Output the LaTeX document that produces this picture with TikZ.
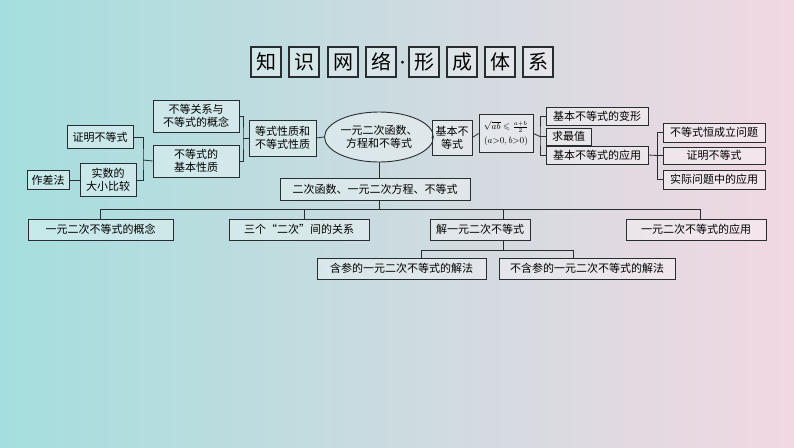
\documentclass[tikz,border=0pt]{standalone}
\usepackage{fontspec}
\usepackage{amsmath,amssymb}
\setmainfont{Noto Sans CJK SC}
\usetikzlibrary{shapes.geometric}
\definecolor{lc}{RGB}{40,45,50}
\tikzset{
 bx/.style={draw=lc,line width=0.9pt,fill=white,fill opacity=0.35,text opacity=1,inner sep=0pt,align=center,font=\fontsize{11}{13}\selectfont,text=black},
 tb/.style={draw=lc,line width=1.2pt,fill=white,fill opacity=0.3,text opacity=1,minimum size=30pt,inner sep=0pt,font=\fontsize{20}{21}\selectfont},
 ln/.style={draw=lc,line width=0.8pt}
}
\begin{document}
\begin{tikzpicture}[x=1pt,y=-1pt]
\shade[left color={rgb,255:red,165;green,222;blue,222},right color={rgb,255:red,242;green,216;blue,226}] (0,0) rectangle (794,447);
\useasboundingbox (0,0) rectangle (794,447);
% title
\foreach \c/\x [count=\i] in {知/266,识/304,网/343,络/381,形/424,成/462,体/500,系/538}
 \node[tb] (t\i) at (\x,62) {\c};
\node[font=\bfseries] (dot) at (402.5,64) {·};
% left
\node[bx,minimum width=86,minimum height=32] (gn) at (196,116) {不等关系与\\不等式的概念};
\node[bx,minimum width=86,minimum height=32] (jx) at (196,161) {不等式的\\基本性质};
\node[bx,minimum width=66,minimum height=23] (zm) at (100,137) {证明不等式};
\node[bx,minimum width=56,minimum height=33] (ss) at (108,180) {实数的\\大小比较};
\node[bx,minimum width=42,minimum height=19] (zc) at (48,180) {作差法};
\node[bx,minimum width=67,minimum height=36] (dx) at (282.5,138) {等式性质和\\不等式性质};
\node[ellipse,draw=lc,line width=0.9pt,fill=white,fill opacity=0.35,text opacity=1,minimum width=96,minimum height=50,inner sep=0pt,align=center,font=\fontsize{11}{13}\selectfont] (el) at (379,137) {一元二次函数、\\方程和不等式};
\node[bx,minimum width=40,minimum height=35] (jb) at (452,137.5) {基本不\\等式};
\node[bx,minimum width=54,minimum height=38,font=\fontsize{9}{10}\selectfont] (fm) at (506,133.5) {$\sqrt{ab}\leqslant\frac{a+b}{2}$\\[4pt]$(a{>}0,b{>}0)$};
\node[bx,minimum width=102,minimum height=18] (bx1) at (597,116) {基本不等式的变形};
\node[bx,minimum width=45,minimum height=17] (bx2) at (568.5,136.5) {求最值};
\node[bx,minimum width=102,minimum height=18] (bx3) at (597,155) {基本不等式的应用};
\node[bx,minimum width=102,minimum height=19] (r1) at (714,132.5) {不等式恒成立问题};
\node[bx,minimum width=102,minimum height=17] (r2) at (714,155.5) {证明不等式};
\node[bx,minimum width=102,minimum height=19] (r3) at (714,179.5) {实际问题中的应用};
\node[bx,minimum width=190,minimum height=22] (ec) at (375,189) {二次函数、一元二次方程、不等式};
\node[bx,minimum width=145,minimum height=21] (a1) at (100.5,229.5) {一元二次不等式的概念};
\node[bx,minimum width=140,minimum height=21] (a2) at (299,229.5) {三个“二次”间的关系};
\node[bx,minimum width=100,minimum height=21] (a3) at (480,229.5) {解一元二次不等式};
\node[bx,minimum width=140,minimum height=21] (a4) at (696,229.5) {一元二次不等式的应用};
\node[bx,minimum width=169,minimum height=21] (b1) at (401.5,268.5) {含参的一元二次不等式的解法};
\node[bx,minimum width=176,minimum height=21] (b2) at (587,268.5) {不含参的一元二次不等式的解法};
% connectors
\draw[ln] (zc.east) -- (ss.west);
\draw[ln] (zm.east) -| (143,160) |- (ss.east);
\draw[ln] (143,160) -- (jx.west);
\draw[ln] (gn.east) -| (243,138) |- (jx.east);
\draw[ln] (243,138) -- (dx.west);
\draw[ln] (dx.east) -- (el.west);
\draw[ln] (el.east) -- (jb.west);
\draw[ln] (jb.east) -- (fm.west);
\draw[ln] (fm.east) -- (540,136.5);
\draw[ln] (bx1.west) -| (540,136.5) |- (bx3.west);
\draw[ln] (540,136.5) -- (bx2.west);
\draw[ln] (bx3.east) -- (657,155.5);
\draw[ln] (r1.west) -| (657,155.5) |- (r3.west);
\draw[ln] (657,155.5) -- (r2.west);
\draw[ln] (el.south) -- (ec.north -| el.south);
\draw[ln] (ec.south -| el.south) -- (379,209);
\draw[ln] (100,209) -- (700,209);
\draw[ln] (100,209) -- (a1.north -| 100,0);
\draw[ln] (304,209) -- (a2.north -| 304,0);
\draw[ln] (503,209) -- (a3.north -| 503,0);
\draw[ln] (700,209) -- (a4.north -| 700,0);
\draw[ln] (a3.south -| 503,0) -- (503,250);
\draw[ln] (421,250) -- (573,250);
\draw[ln] (421,250) -- (b1.north -| 421,0);
\draw[ln] (573,250) -- (b2.north -| 573,0);
\end{tikzpicture}
\end{document}
